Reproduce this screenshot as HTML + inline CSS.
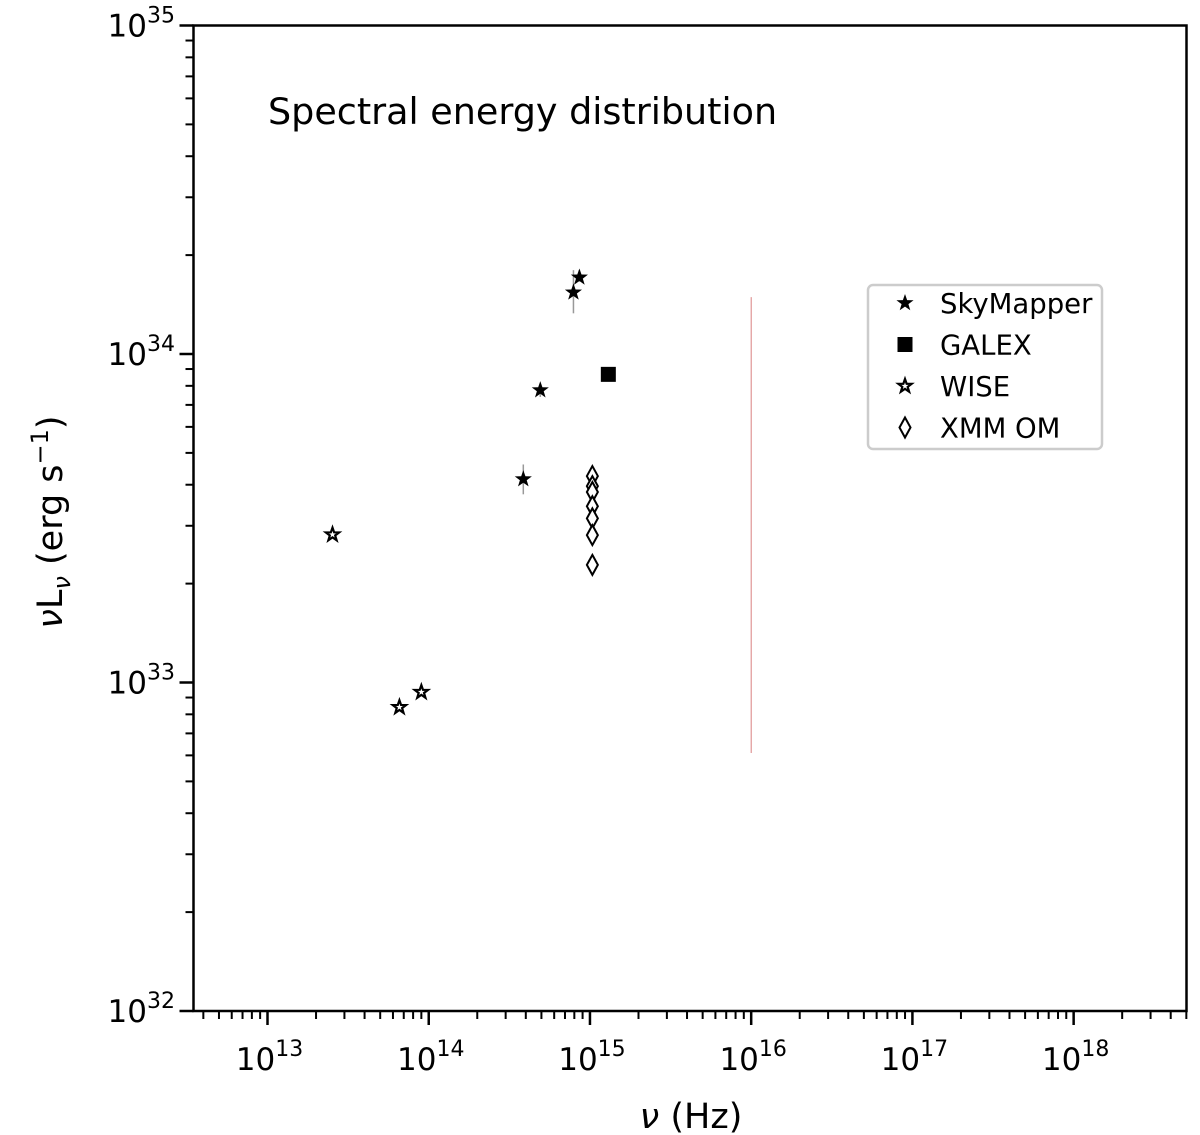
<!DOCTYPE html>
<html><head><meta charset="utf-8"><style>
html,body{margin:0;padding:0;background:#fff;}
svg{display:block;font-family:"DejaVu Sans","Liberation Sans",sans-serif;}
</style></head><body>
<svg id="chart" width="1200" height="1135" viewBox="0 0 1200 1135" xmlns="http://www.w3.org/2000/svg">
<g id="grid"></g>
<g id="marks"></g>
<rect x="193.5" y="25.5" width="993" height="985.5" fill="none" stroke="#000" stroke-width="2.5"/>
<text x="268" y="124" font-size="36.5">Spectral energy distribution</text>
<text x="691" y="1128" font-size="35" text-anchor="middle"><tspan font-style="italic">ν</tspan> (Hz)</text>
<text transform="translate(62,522) rotate(-90)" font-size="35" text-anchor="middle"><tspan font-style="italic">ν</tspan>L<tspan font-size="24" dy="8" font-style="italic">ν</tspan><tspan dy="-8"> (erg s</tspan><tspan font-size="24" dy="-14">−1</tspan><tspan dy="14">)</tspan></text>
<g>
<rect x="868" y="285" width="234" height="164" rx="5" fill="#fff" stroke="#ccc" stroke-width="2.5"/>
<g id="legend-items"></g>
</g>
</svg>
<script>
const skyX=[8.6e14,7.9e14,4.92e14,3.86e14];
const skyY=[1.71e34,1.54e34,7.76e33,4.16e33];
const skyLo=[1.66e34,1.33e34,7.4e33,3.74e33];
const skyHi=[1.8e34,1.8e34,8.1e33,4.61e33];
const galexX=[1.30e15];
const galexY=[8.67e33];
const wiseX=[2.53e13,6.58e13,9.0e13];
const wiseY=[2.82e33,8.41e32,9.35e32];
const xmmX=[1.035e15,1.035e15,1.035e15,1.035e15,1.035e15,1.035e15,1.035e15];
const xmmY=[4.25e33,3.96e33,3.80e33,3.44e33,3.16e33,2.81e33,2.28e33];
const lineX=[1e16];
const lineY=[1.49e34,6.1e32];
const xTicks=[13,14,15,16,17,18];
const yTicks=[32,33,34,35];
const legendLabels=["SkyMapper","GALEX","WISE","XMM OM"];

const NS="http://www.w3.org/2000/svg";
const X0=193.5,X1=1186.5,Y0=25.5,Y1=1011;
const xmin=12.541,xmax=18.70,ymin=32,ymax=35;
const xs=v=>X0+(Math.log10(v)-xmin)/(xmax-xmin)*(X1-X0);
const ys=v=>Y1-(Math.log10(v)-ymin)/(ymax-ymin)*(Y1-Y0);
function mk(tag,attrs,parent){const e=document.createElementNS(NS,tag);for(const k in attrs)e.setAttribute(k,attrs[k]);parent.appendChild(e);return e;}
const grid=document.getElementById('grid'),marks=document.getElementById('marks');

for(let d=12;d<=18;d++){for(let m=1;m<10;m++){const v=m*Math.pow(10,d);const lv=Math.log10(v);if(lv<xmin||lv>xmax)continue;const x=xs(v);const L=m===1?14:8;
const t=mk('line',{x1:x,x2:x,y1:Y1,y2:Y1+L,stroke:'#000','stroke-width':m===1?2.5:2},grid);

}}
xTicks.forEach(d=>{const x=xs(Math.pow(10,d));const t=mk('text',{x:x+2,y:1070,'font-size':31,'text-anchor':'middle'},grid);


t.innerHTML='10<tspan font-size="22" dy="-14">'+d+'</tspan>';});
for(let d=32;d<=35;d++){for(let m=1;m<10;m++){if(d===35&&m>1)continue;const v=m*Math.pow(10,d);const y=ys(v);const L=m===1?14:8;
const t=mk('line',{x1:X0,x2:X0-L,y1:y,y2:y,stroke:'#000','stroke-width':m===1?2.5:2},grid);

}}
yTicks.forEach(d=>{const y=ys(Math.pow(10,d));const t=mk('text',{x:175,y:y+11,'font-size':31,'text-anchor':'end'},grid);


t.innerHTML='10<tspan font-size="22" dy="-14">'+d+'</tspan>';});

function starPath(cx,cy,R){const r=R*0.4;let p='';for(let i=0;i<10;i++){const a=-Math.PI/2+i*Math.PI/5;const rr=i%2?r:R;p+=(i?'L':'M')+(cx+rr*Math.cos(a)).toFixed(2)+','+(cy+rr*Math.sin(a)).toFixed(2);}return p+'Z';}
function drawMarker(type,x,y,parent){
 if(type==='sky')return mk('path',{d:starPath(x,y,9),fill:'#000'},parent);
 if(type==='galex')return mk('rect',{x:x-7.5,y:y-7.5,width:15,height:15,fill:'#000'},parent);
 if(type==='wise')return mk('path',{d:starPath(x,y,7),fill:'#fff',stroke:'#000','stroke-width':2.2},parent);
 return mk('path',{d:`M${x},${y-10}L${x+5.5},${y}L${x},${y+10}L${x-5.5},${y}Z`,fill:'#fff',stroke:'#000','stroke-width':2},parent);
}
const rl=mk('line',{x1:xs(lineX[0]),x2:xs(lineX[0]),y1:ys(lineY[0]),y2:ys(lineY[1]),stroke:'#d98080','stroke-width':1},marks);


skyX.forEach((v,i)=>{const e=mk('line',{x1:xs(v),x2:xs(v),y1:ys(skyHi[i]),y2:ys(skyLo[i]),stroke:'#999','stroke-width':1.5},marks);

});
wiseX.forEach((v,i)=>{const m=drawMarker('wise',xs(v),ys(wiseY[i]),marks);

});
xmmX.forEach((v,i)=>{const m=drawMarker('xmm',xs(v),ys(xmmY[i]),marks);

});
skyX.forEach((v,i)=>{const m=drawMarker('sky',xs(v),ys(skyY[i]),marks);

});
galexX.forEach((v,i)=>{const m=drawMarker('galex',xs(v),ys(galexY[i]),marks);

});
const li=document.getElementById('legend-items');
['sky','galex','wise','xmm'].forEach((t,i)=>{const y=303+i*41.5;const g=mk('g',{},li);


drawMarker(t,905,y,g);const tx=mk('text',{x:940,y:y+10,'font-size':27.5},g);tx.textContent=legendLabels[i];});
</script>
</body></html>
